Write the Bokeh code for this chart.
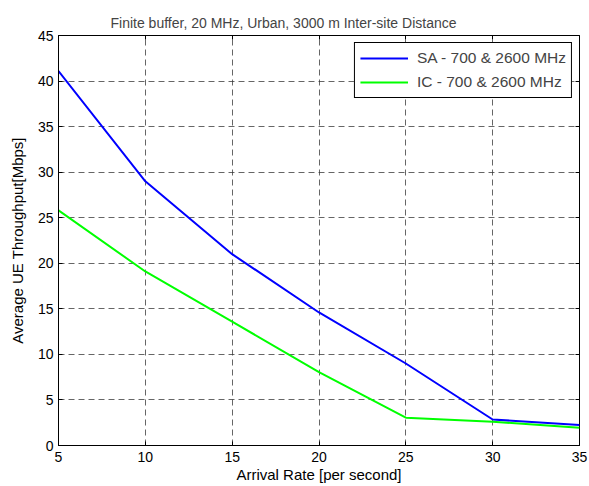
from bokeh.plotting import figure
from bokeh.models import Range1d, LinearAxis, FixedTicker, Legend, LegendItem
from bokeh.embed import file_html
from bokeh.resources import INLINE

arrival_rate = [5, 10, 15, 20, 25, 30, 35]
sa_throughput = [41.1, 29.0, 21.0, 14.6, 9.0, 2.85, 2.25]
ic_throughput = [25.8, 19.1, 13.6, 8.05, 3.05, 2.6, 1.95]
x_ticks = [5, 10, 15, 20, 25, 30, 35]
y_ticks = [0, 5, 10, 15, 20, 25, 30, 35, 40, 45]

FONT = "Liberation Sans"

p = figure(width=589, height=486, output_backend="svg", toolbar_location=None,
           x_range=Range1d(5, 35), y_range=Range1d(0, 45),
           title="Finite buffer, 20 MHz, Urban, 3000 m Inter-site Distance",
           min_border_left=58, min_border_right=10, min_border_top=35, min_border_bottom=41)

p.title.text_font = FONT
p.title.text_font_size = "14px"
p.title.text_font_style = "normal"
p.title.align = "left"
p.title.offset = 52
p.title.standoff = 9

p.outline_line_color = "black"
p.outline_line_width = 1
p.outline_line_alpha = 1

for ax in (p.xaxis[0], p.yaxis[0]):
    ax.major_tick_in = 4
    ax.major_tick_out = 0
    ax.minor_tick_in = 0
    ax.minor_tick_out = 0
    ax.axis_line_color = "black"
    ax.major_tick_line_color = "black"
    ax.major_label_text_font = FONT
    ax.major_label_text_font_size = "14px"
    ax.major_label_text_color = "black"
    ax.axis_label_text_font = FONT
    ax.axis_label_text_font_size = "15px"
    ax.axis_label_text_font_style = "normal"
    ax.axis_label_text_color = "black"

p.xaxis.ticker = FixedTicker(ticks=x_ticks)
p.yaxis.ticker = FixedTicker(ticks=y_ticks)
p.xaxis.axis_label = "Arrival Rate [per second]"
p.yaxis.axis_label = "Average UE Throughput[Mbps]"
p.xaxis.major_label_standoff = 6
p.xaxis.axis_label_standoff = 1
p.yaxis.major_label_standoff = 5
p.yaxis.axis_label_standoff = 9

# mirrored ticks on top and right (no labels)
top_ax = LinearAxis(ticker=FixedTicker(ticks=x_ticks), major_tick_in=4, major_tick_out=0,
                    minor_tick_in=0, minor_tick_out=0,
                    major_label_overrides={t: "" for t in x_ticks},
                    axis_line_color=None, major_tick_line_color="black", major_label_standoff=0)
right_ax = LinearAxis(ticker=FixedTicker(ticks=y_ticks), major_tick_in=4, major_tick_out=0,
                      minor_tick_in=0, minor_tick_out=0,
                      major_label_overrides={t: "" for t in y_ticks},
                      axis_line_color=None, major_tick_line_color="black", major_label_standoff=0)
p.add_layout(top_ax, "above")
p.add_layout(right_ax, "right")

p.xgrid.ticker = FixedTicker(ticks=x_ticks)
p.ygrid.ticker = FixedTicker(ticks=y_ticks)
for g in (p.xgrid[0], p.ygrid[0]):
    g.grid_line_color = "#333333"
    g.grid_line_alpha = 0.75
    g.grid_line_dash = "6 4"
    g.grid_line_width = 1

r_sa = p.line(arrival_rate, sa_throughput, line_color="#0000FF", line_width=2)
r_ic = p.line(arrival_rate, ic_throughput, line_color="#00FF00", line_width=2)

legend = Legend(items=[LegendItem(label="SA - 700 & 2600 MHz", renderers=[r_sa]),
                       LegendItem(label="IC - 700 & 2600 MHz", renderers=[r_ic])],
                location="top_right")
legend.label_text_font = FONT
legend.label_text_font_size = "15.5px"
legend.border_line_color = "black"
legend.border_line_alpha = 1
legend.background_fill_alpha = 1
legend.glyph_width = 48
legend.glyph_height = 20
legend.label_height = 20
legend.spacing = 4
legend.padding = 5
legend.margin = 7
legend.label_standoff = 9
p.add_layout(legend)

open("out.html", "w").write(file_html(p, INLINE))
